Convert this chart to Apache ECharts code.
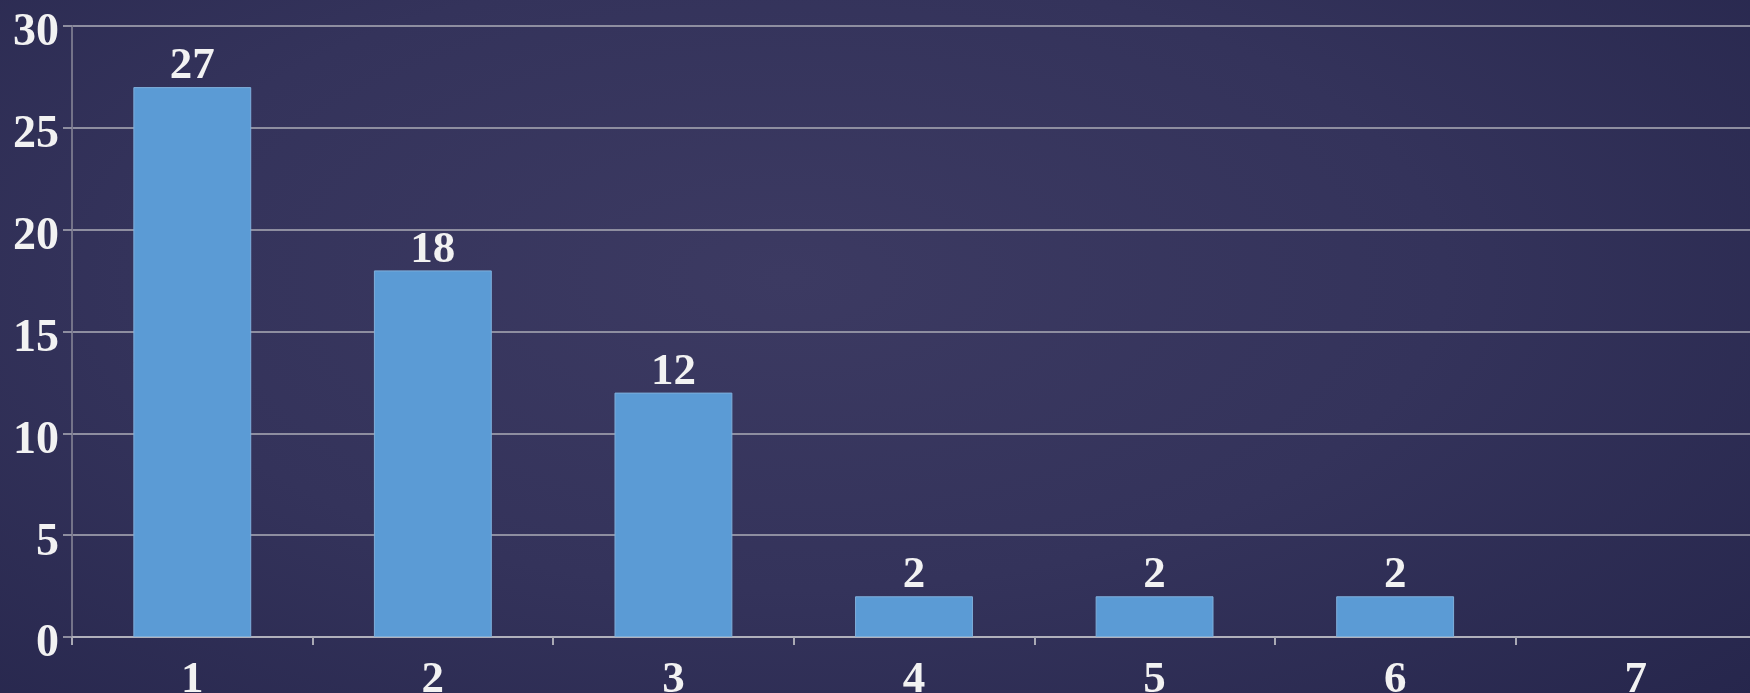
<!DOCTYPE html>
<html><head><meta charset="utf-8">
<style>
html,body{margin:0;padding:0;width:1750px;height:693px;overflow:hidden;
background:radial-gradient(ellipse 75% 90% at 45% 40%, #3c3a62 0%, #34335b 50%, #26264c 100%);}
#c{width:1750px;height:693px;}
</style>
<script src="https://cdn.jsdelivr.net/npm/echarts@6/dist/echarts.min.js"></script>
</head><body><div id="c"></div>
<script>
var categories = ['1','2','3','4','5','6','7'];
var values = [27, 18, 12, 2, 2, 2, null];
var yTicks = [0, 5, 10, 15, 20, 25, 30];

var chart = echarts.init(document.getElementById('c'));
var font = '"Liberation Serif", "Times New Roman", serif';
chart.setOption({
  backgroundColor: 'transparent',
  animation: false,
  grid: {left: 72, right: -6, top: 26, bottom: 56, containLabel: false, outerBoundsMode: 'none'},
  xAxis: {
    type: 'category', data: categories,
    axisLine: {lineStyle: {color: '#b0b0bb', width: 2}},
    axisTick: {show: true, length: 8, lineStyle: {color: '#a9a9b4', width: 2}},
    axisLabel: {color: '#f2f2f2', fontFamily: font, fontWeight: 'bold', fontSize: 45, margin: 21}
  },
  yAxis: {
    type: 'value', min: yTicks[0], max: yTicks[yTicks.length-1], interval: 5,
    axisLine: {show: true, lineStyle: {color: '#747389', width: 2}},
    axisTick: {show: true, length: 9, lineStyle: {color: '#8e8ea0', width: 2}},
    splitLine: {lineStyle: {color: '#8e8ea0', width: 2}},
    axisLabel: {color: '#f2f2f2', fontFamily: font, fontWeight: 'bold', fontSize: 46, margin: 13,
      verticalAlign: 'top', lineHeight: 15,
      formatter: function(v){ return yTicks.indexOf(v) >= 0 ? String(v) : ''; }}
  },
  series: [{
    type: 'bar', data: values, barWidth: '49%',
    itemStyle: {color: '#5b9bd5', borderColor: '#7fafdb', borderWidth: 1},
    label: {show: true, position: 'top', distance: -2, color: '#f2f2f2', fontFamily: font,
      fontWeight: 'bold', fontSize: 45}
  }]
});
</script></body></html>
